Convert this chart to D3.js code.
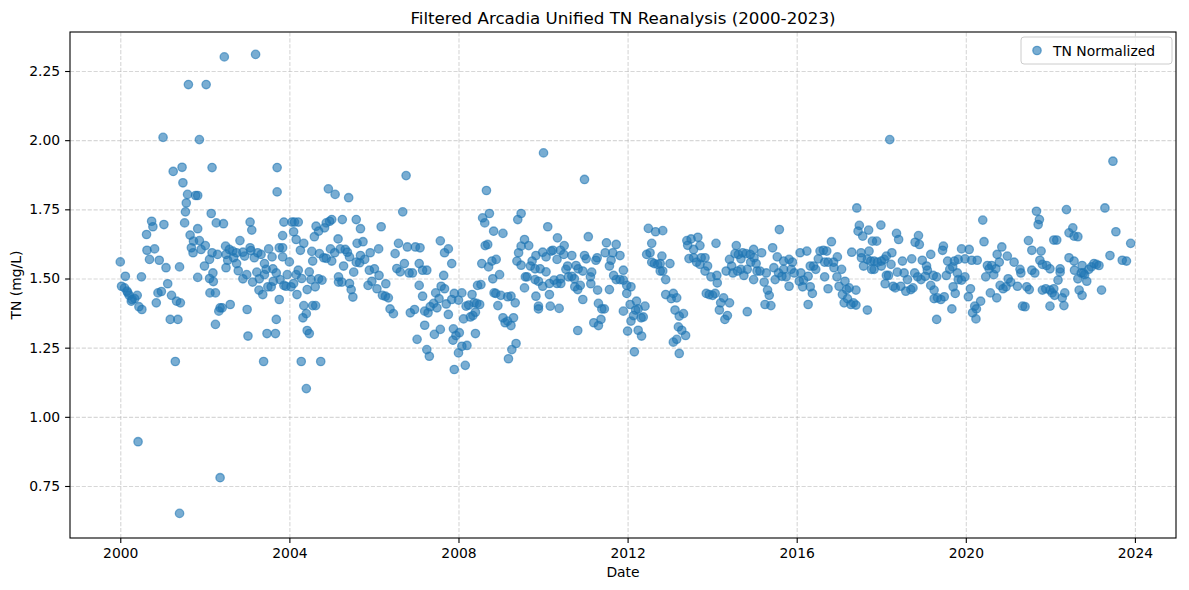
<!DOCTYPE html>
<html>
<head>
<meta charset="utf-8">
<script src="https://cdn.jsdelivr.net/npm/d3@7"></script>
<style>
    body { margin: 0; background: #ffffff; }
    text { font-family: "DejaVu Sans", sans-serif; }
</style>
</head>
<body>
<svg id="scatter"></svg>
<script>
// sample dates as decimal years
const sampleYears = [
    2000.00, 2000.12, 2000.03, 2000.10, 2000.16, 2000.21, 2000.28, 2000.34, 2000.40, 2000.26, 2000.44, 2000.51, 2000.50, 2000.62, 2000.74, 2000.77, 2001.03, 2000.63, 2000.81, 2000.69, 2000.92, 2001.08, 2001.40, 2001.12, 2000.89, 2000.97, 2000.85, 2001.21, 2001.33, 2001.42, 2001.18, 2001.36, 2001.30, 2000.42, 2001.40, 2001.01, 2001.25, 2001.46, 2001.48, 2001.59, 2001.78, 2001.56, 2001.54, 2001.52, 2001.65, 2001.73, 2001.68, 2001.72, 2001.61, 2000.18,
    2002.03, 2001.87, 2002.46, 2003.20, 2002.17, 2003.71, 2003.71, 2001.83, 2002.15, 2001.83, 2002.27, 2002.44, 2003.07, 2003.11, 2001.87, 2002.01, 2001.91, 2002.17, 2002.30, 2002.11, 2001.99, 2001.83, 2002.11, 2002.19, 2002.20, 2002.12, 2002.25, 2002.36, 2002.33, 2002.41, 2002.60, 2002.25, 2002.36,
    2002.49, 2002.58, 2002.66, 2002.75, 2002.50, 2002.54, 2002.68, 2002.83, 2002.90, 2002.94, 2003.07, 2003.09, 2003.17, 2003.25, 2003.33, 2003.51, 2003.59, 2003.76,
    2002.50, 2002.75, 2002.79, 2002.90, 2002.99, 2003.13, 2003.23, 2003.29, 2003.41, 2003.45, 2003.41, 2003.61, 2003.69, 2003.62, 2003.28, 2003.37, 2003.49, 2003.57, 2003.76, 2003.78, 2003.00, 2003.69, 2003.02, 2003.47, 2003.67, 2003.39,
    2003.87, 2004.06, 2004.12, 2004.21, 2003.84, 2004.10, 2004.16, 2004.34, 2004.26, 2003.84, 2003.84, 2004.00, 2003.95, 2003.87, 2003.92, 2004.04, 2004.10, 2004.16, 2004.21, 2004.29, 2004.18, 2004.42, 2004.47, 2004.51, 2004.61, 2004.69, 2004.77,
    2004.34, 2004.55, 2004.62, 2004.40, 2004.32, 2004.42, 2004.47, 2004.28, 2004.74, 2004.40,
    2004.53, 2004.55, 2004.59, 2004.63, 2004.69, 2004.83, 2004.87, 2004.95, 2005.00, 2004.92, 2005.08, 2005.40, 2005.25, 2005.15, 2005.58, 2005.68,
    2004.71, 2004.81, 2004.87, 2004.97, 2005.00, 2005.07, 2005.20, 2005.32, 2005.37, 2005.42, 2005.28, 2005.16, 2005.16, 2005.24, 2005.42, 2005.46, 2005.50, 2005.52, 2005.60, 2005.74, 2005.68, 2005.58, 2005.66, 2005.78,
    2005.91, 2006.11, 2006.17, 2005.89, 2006.01, 2006.12, 2005.95, 2005.86, 2006.07, 2006.28, 2006.20, 2006.27, 2006.34, 2006.38, 2006.46, 2006.68, 2006.76,
    2006.50, 2006.58, 2006.54, 2006.62, 2006.72, 2006.79, 2006.83, 2006.91, 2006.98, 2007.09, 2007.07, 2007.15, 2007.25, 2007.07, 2007.15, 2006.86, 2006.96, 2007.02, 2007.20, 2007.20, 2007.28, 2007.33, 2007.41, 2007.49,
    2007.25, 2007.31, 2007.43, 2007.57, 2007.46, 2007.54, 2007.59, 2007.67, 2007.71, 2007.65, 2007.76, 2007.57, 2007.67, 2007.76,
    2007.84, 2007.84, 2007.90, 2008.00, 2008.08, 2007.88, 2008.02, 2007.94, 2007.87, 2008.00, 2008.08, 2008.20, 2007.90, 2008.16,
    2008.12, 2008.18, 2008.24, 2008.32, 2008.28, 2008.34, 2008.40, 2008.37, 2008.43, 2008.50, 2008.40, 2008.45, 2008.53,
    2008.57, 2008.62, 2008.73, 2008.66, 2008.63, 2008.69, 2008.55, 2008.71, 2008.79, 2008.89, 2008.83, 2009.05, 2008.81, 2008.97, 2008.84, 2008.88, 2008.93, 2009.00, 2009.16, 2009.24, 2009.34,
    2009.05, 2009.10, 2009.16, 2009.24, 2009.30, 2009.18, 2009.26, 2009.36, 2009.40, 2009.48, 2009.56, 2009.66, 2009.48, 2009.42, 2009.38, 2009.48, 2009.58, 2009.62, 2009.56, 2009.70, 2009.74,
    2010.01, 2010.98, 2010.11, 2009.83, 2009.99, 2010.07, 2010.19, 2010.23, 2010.33, 2010.34, 2010.41, 2010.50, 2010.49, 2010.68,
    2009.81, 2009.93, 2010.07, 2009.81, 2009.89, 2009.99, 2010.15, 2010.26, 2010.33, 2010.42, 2010.41, 2010.58, 2010.54, 2010.60, 2010.68, 2010.74, 2010.78, 2010.83, 2010.94,
    2010.75, 2010.82, 2010.88, 2010.94, 2010.98, 2011.02, 2011.07, 2011.12, 2011.15, 2011.13, 2011.25, 2011.28, 2011.29, 2011.31, 2011.39, 2011.45, 2011.20, 2011.31, 2011.37, 2010.82,
    2009.83, 2009.89, 2009.89, 2010.15, 2010.17, 2010.38, 2011.50, 2011.47, 2011.57, 2011.61, 2011.65, 2011.73, 2011.57, 2011.67, 2011.73,
    2011.82, 2011.90, 2011.82, 2011.90, 2011.98, 2012.08, 2011.98, 2011.90, 2012.00, 2012.06, 2012.08, 2012.14, 2012.21, 2012.19, 2012.25, 2012.41, 2012.32, 2012.37, 2012.25, 2012.33, 2012.16,
    2012.49, 2012.66, 2012.83, 2012.57, 2012.45, 2012.53, 2012.57, 2012.63, 2012.71, 2012.77, 2012.81, 2012.77, 2012.83, 2013.00, 2012.90, 2012.90, 2013.03, 2013.08, 2013.16, 2013.12, 2013.22, 2013.32, 2013.20, 2013.28, 2013.37, 2013.08, 2013.16, 2013.22,
    2013.40, 2013.50, 2013.66, 2013.42, 2013.56, 2013.71, 2013.45, 2013.56, 2013.63, 2013.74, 2013.71,
    2013.83, 2013.89, 2013.83, 2013.86, 2013.93, 2014.01, 2014.07, 2013.97, 2014.11, 2014.12, 2014.09, 2014.27, 2014.17, 2014.20, 2014.41, 2014.36, 2014.30,
    2014.41, 2014.33, 2014.46, 2014.49, 2014.57, 2014.54, 2014.62, 2014.72, 2014.80, 2014.90, 2014.98, 2014.68, 2014.60, 2014.68, 2014.75, 2014.83, 2014.91, 2014.99, 2015.04, 2014.98, 2015.06, 2015.13, 2015.17,
    2015.23, 2015.28, 2015.31, 2015.35, 2015.25, 2015.39, 2014.83, 2015.43, 2015.54, 2015.59, 2015.46, 2015.49, 2015.57, 2015.69, 2015.69, 2015.65, 2015.75,
    2015.82, 2015.87, 2015.82, 2015.90, 2015.94, 2016.08, 2016.24, 2016.10, 2016.16, 2016.06, 2016.14, 2016.27, 2016.32, 2016.37, 2016.27,
    2016.32, 2016.40, 2016.45, 2016.51, 2016.55, 2016.63, 2016.71, 2016.82, 2016.66, 2016.74, 2016.87, 2016.96, 2016.66, 2016.88, 2017.06, 2016.95, 2016.74, 2017.00, 2017.14, 2017.08, 2017.18, 2017.24, 2017.12, 2017.20, 2017.28, 2017.34, 2017.40, 2017.40,
    2017.30, 2017.42, 2017.48, 2017.45, 2017.56, 2017.70, 2017.52, 2017.53, 2017.58, 2017.71, 2017.67, 2017.75, 2017.77, 2017.67,
    2017.79, 2017.89, 2017.99, 2017.83, 2017.91, 2018.00, 2018.07, 2018.12, 2018.23, 2018.25, 2017.83, 2018.00, 2018.12, 2018.17, 2018.09, 2018.28, 2018.33, 2018.20,
    2018.36, 2018.41, 2018.38, 2018.46, 2018.50, 2018.54, 2018.58, 2018.62, 2018.70, 2018.75, 2018.72, 2018.79, 2018.86, 2018.80, 2018.88, 2018.90, 2018.97, 2018.94, 2019.07, 2019.09, 2019.04, 2019.17, 2019.23, 2019.17,
    2019.25, 2019.25, 2019.33, 2019.41, 2019.49, 2019.31, 2019.31, 2019.45, 2019.47, 2019.57, 2019.54, 2019.62, 2019.69, 2019.73, 2019.70, 2019.75, 2019.67,
    2019.80, 2019.82, 2019.90, 2019.98, 2020.08, 2020.14, 2020.27, 2019.82, 2019.90, 2019.98, 2020.06, 2020.11, 2020.21, 2020.16, 2020.25, 2020.24, 2020.35,
    2020.40, 2020.43, 2020.47, 2020.51, 2020.55, 2020.61, 2020.66, 2020.71, 2020.74, 2020.79, 2020.85, 2020.58, 2020.73, 2020.81, 2020.88, 2020.95, 2021.00, 2020.98, 2021.06, 2021.14, 2021.22, 2021.30, 2021.28, 2021.34, 2021.40, 2021.44, 2021.50,
    2021.48, 2021.56, 2021.56, 2021.63, 2021.67, 2021.74, 2021.71, 2021.75,
    2021.78, 2021.81, 2021.91, 2021.99, 2021.81, 2021.89, 2021.99, 2022.08, 2022.04, 2022.10, 2021.99, 2022.18, 2022.23, 2022.23, 2022.08, 2022.15, 2022.38, 2022.34, 2022.28, 2022.32,
    2022.44, 2022.44, 2022.53, 2022.56, 2022.65, 2022.56, 2022.57, 2022.65, 2022.75, 2022.73, 2022.81, 2022.86, 2022.78, 2022.91, 2022.97, 2023.03, 2023.09, 2023.15, 2022.68, 2022.75, 2023.21, 2023.29, 2023.48, 2023.41, 2023.55, 2023.70, 2023.80, 2023.90
];
// TN normalized (mg/L), same order as sampleYears
const tnValues = [
    1.560, 1.508, 1.472, 1.466, 1.454, 1.439, 1.424, 1.427, 1.439, 1.418, 1.398, 1.388, 1.506, 1.659, 1.707, 1.687, 1.695, 1.602, 1.607, 1.569, 1.566, 1.539, 1.542, 1.481, 1.448, 1.453, 1.412, 1.439, 1.418, 1.412, 1.352, 1.352, 1.200, 0.910, 0.651, 2.010, 1.887, 1.902, 1.846, 1.804, 1.800, 1.773, 1.741, 1.701, 1.657, 1.635, 1.611, 1.593, 2.201, 1.448,
    2.201, 2.002, 2.301, 2.310, 1.901, 1.901, 1.813, 1.800, 1.735, 1.680, 1.701, 1.698, 1.704, 1.675, 1.637, 1.619, 1.605, 1.593, 1.587, 1.569, 1.545, 1.504, 1.500, 1.520, 1.489, 1.448, 1.448, 1.394, 1.382, 1.394, 1.406, 1.334, 0.780,
    1.617, 1.605, 1.599, 1.593, 1.587, 1.566, 1.575, 1.637, 1.595, 1.581, 1.611, 1.601, 1.575, 1.593, 1.587, 1.607, 1.578, 1.611,
    1.539, 1.554, 1.528, 1.499, 1.514, 1.487, 1.523, 1.499, 1.554, 1.533, 1.514, 1.535, 1.520, 1.490, 1.458, 1.442, 1.470, 1.470, 1.424, 1.496, 1.388, 1.352, 1.292, 1.301, 1.301, 1.200,
    1.704, 1.704, 1.704, 1.704, 1.655, 1.669, 1.641, 1.627, 1.602, 1.611, 1.578, 1.560, 1.514, 1.475, 1.472, 1.470, 1.482, 1.514, 1.530, 1.500, 1.442, 1.460, 1.524, 1.496, 1.470, 1.499, 1.494,
    1.402, 1.402, 1.402, 1.373, 1.358, 1.312, 1.301, 1.200, 1.200, 1.102,
    1.598, 1.563, 1.651, 1.689, 1.671, 1.683, 1.701, 1.707, 1.713, 1.824, 1.804, 1.792, 1.713, 1.643, 1.713, 1.680,
    1.590, 1.575, 1.573, 1.607, 1.563, 1.593, 1.607, 1.605, 1.595, 1.578, 1.545, 1.506, 1.487, 1.487, 1.482, 1.460, 1.433, 1.523, 1.627, 1.633, 1.583, 1.559, 1.557, 1.569,
    1.593, 1.607, 1.687, 1.530, 1.535, 1.511, 1.490, 1.475, 1.463, 1.481, 1.439, 1.436, 1.430, 1.390, 1.373, 1.741, 1.872,
    1.590, 1.627, 1.536, 1.524, 1.554, 1.614, 1.520, 1.520, 1.614, 1.611, 1.554, 1.530, 1.530, 1.475, 1.436, 1.376, 1.388, 1.280, 1.331, 1.382, 1.376, 1.398, 1.410, 1.394,
    1.243, 1.219, 1.298, 1.316, 1.448, 1.427, 1.472, 1.463, 1.408, 1.511, 1.370, 1.636, 1.593, 1.607,
    1.554, 1.424, 1.446, 1.422, 1.448, 1.318, 1.304, 1.294, 1.277, 1.231, 1.255, 1.258, 1.171, 1.186,
    1.354, 1.400, 1.404, 1.442, 1.361, 1.366, 1.378, 1.412, 1.410, 1.406, 1.301, 1.475, 1.478,
    1.719, 1.701, 1.735, 1.818, 1.619, 1.623, 1.554, 1.542, 1.563, 1.569, 1.671, 1.663, 1.499, 1.514, 1.448, 1.446, 1.402, 1.439, 1.434, 1.436, 1.412,
    1.358, 1.340, 1.346, 1.330, 1.358, 1.210, 1.243, 1.265, 1.713, 1.735, 1.641, 1.619, 1.617, 1.593, 1.563, 1.548, 1.506, 1.506, 1.466, 1.545, 1.563,
    1.954, 1.858, 1.687, 1.583, 1.595, 1.578, 1.599, 1.602, 1.569, 1.647, 1.602, 1.619, 1.587, 1.583,
    1.535, 1.535, 1.524, 1.496, 1.490, 1.472, 1.482, 1.494, 1.482, 1.482, 1.499, 1.545, 1.533, 1.506, 1.508, 1.499, 1.547, 1.535, 1.527,
    1.470, 1.460, 1.475, 1.424, 1.583, 1.571, 1.651, 1.506, 1.523, 1.481, 1.566, 1.575, 1.458, 1.410, 1.390, 1.390, 1.340, 1.330, 1.352, 1.312,
    1.436, 1.400, 1.390, 1.442, 1.400, 1.392, 1.629, 1.593, 1.545, 1.566, 1.593, 1.623, 1.460, 1.511, 1.496,
    1.583, 1.530, 1.496, 1.494, 1.475, 1.470, 1.446, 1.382, 1.310, 1.406, 1.346, 1.366, 1.418, 1.386, 1.390, 1.400, 1.358, 1.361, 1.313, 1.292, 1.235,
    1.681, 1.669, 1.673, 1.627, 1.587, 1.593, 1.559, 1.554, 1.551, 1.554, 1.581, 1.527, 1.527, 1.554, 1.496, 1.442, 1.427, 1.446, 1.430, 1.386, 1.364, 1.373, 1.325, 1.313, 1.294, 1.270, 1.280, 1.229,
    1.637, 1.643, 1.649, 1.620, 1.605, 1.619, 1.572, 1.575, 1.559, 1.575, 1.551,
    1.575, 1.545, 1.527, 1.446, 1.442, 1.439, 1.446, 1.506, 1.511, 1.484, 1.627, 1.430, 1.386, 1.412, 1.412, 1.366, 1.352,
    1.569, 1.527, 1.545, 1.520, 1.619, 1.590, 1.587, 1.593, 1.590, 1.587, 1.605, 1.571, 1.527, 1.533, 1.511, 1.533, 1.559, 1.575, 1.554, 1.496, 1.527, 1.527, 1.593,
    1.487, 1.520, 1.458, 1.439, 1.406, 1.402, 1.380, 1.611, 1.578, 1.677, 1.539, 1.496, 1.520, 1.563, 1.533, 1.508, 1.506,
    1.569, 1.533, 1.472, 1.559, 1.520, 1.593, 1.599, 1.520, 1.494, 1.490, 1.470, 1.508, 1.470, 1.446, 1.406,
    1.545, 1.545, 1.533, 1.571, 1.599, 1.602, 1.599, 1.633, 1.559, 1.559, 1.559, 1.578, 1.506, 1.539, 1.533, 1.506, 1.463, 1.472, 1.490, 1.442, 1.460, 1.466, 1.412, 1.427, 1.406, 1.412, 1.458, 1.404,
    1.595, 1.755, 1.692, 1.671, 1.653, 1.675, 1.593, 1.575, 1.545, 1.599, 1.569, 1.563, 1.533, 1.386,
    1.635, 1.635, 1.693, 1.563, 1.559, 1.563, 1.569, 1.581, 1.551, 1.593, 1.533, 1.545, 1.511, 1.511, 1.481, 1.472, 1.466, 2.002,
    1.663, 1.641, 1.523, 1.472, 1.563, 1.520, 1.454, 1.496, 1.460, 1.466, 1.571, 1.520, 1.506, 1.631, 1.655, 1.623, 1.566, 1.496, 1.545, 1.530, 1.508, 1.587, 1.511, 1.475,
    1.458, 1.427, 1.430, 1.424, 1.434, 1.352, 1.506, 1.602, 1.617, 1.563, 1.511, 1.533, 1.542, 1.563, 1.470, 1.446, 1.390,
    1.520, 1.569, 1.607, 1.571, 1.605, 1.566, 1.566, 1.496, 1.494, 1.506, 1.434, 1.463, 1.400, 1.376, 1.390, 1.354, 1.418,
    1.711, 1.633, 1.506, 1.547, 1.535, 1.547, 1.514, 1.535, 1.587, 1.559, 1.614, 1.448, 1.430, 1.475, 1.463, 1.470, 1.499, 1.581, 1.487, 1.559, 1.472, 1.520, 1.533, 1.400, 1.398, 1.470, 1.460,
    1.637, 1.602, 1.530, 1.520, 1.743, 1.713, 1.695, 1.566,
    1.599, 1.551, 1.547, 1.535, 1.458, 1.463, 1.458, 1.463, 1.448, 1.439, 1.400, 1.494, 1.535, 1.523, 1.639, 1.639, 1.749, 1.448, 1.430, 1.402,
    1.575, 1.665, 1.683, 1.653, 1.651, 1.563, 1.530, 1.499, 1.547, 1.520, 1.514, 1.490, 1.520, 1.533, 1.542, 1.554, 1.551, 1.547, 1.458, 1.439, 1.458, 1.755, 1.924, 1.583, 1.669, 1.566, 1.563, 1.627
];
const yTicks = [0.75, 1.00, 1.25, 1.50, 1.75, 2.00, 2.25];
const xDomainYears = [1998.81, 2024.97];
const yDomain = [0.562, 2.391];

const ancho = 1189;
const alto = 590;
const margen = {left: 70, right: 13, top: 32, bottom: 52};
const ancho_g = ancho - margen.left - margen.right;
const alto_g = alto - margen.top - margen.bottom;
const azul = '#1f77b4';

// decimal year -> Date
function aFecha (y) {
    const yr = Math.floor(y);
    const ini = Date.UTC(yr, 0, 1);
    const fin = Date.UTC(yr + 1, 0, 1);
    return new Date(ini + (y - yr) * (fin - ini));
}

const svg = d3.select('#scatter').attr('width', ancho).attr('height', alto);

let miEscalaX = d3.scaleUtc().domain(xDomainYears.map(aFecha)).range([0, ancho_g]);
let miEscalaY = d3.scaleLinear().domain(yDomain).range([alto_g, 0]);

const g = svg.append('g')
    .attr('transform', 'translate(' + margen.left + ',' + margen.top + ')');

// grid
let xGrid = d3.axisBottom(miEscalaX).ticks(d3.utcYear.every(4)).tickSize(-alto_g).tickFormat('');
let yGrid = d3.axisLeft(miEscalaY).tickValues(yTicks).tickSize(-ancho_g).tickFormat('');
g.append('g').attr('class', 'grid')
    .attr('transform', 'translate(0,' + alto_g + ')')
    .call(xGrid);
g.append('g').attr('class', 'grid')
    .call(yGrid);
g.selectAll('.grid .domain').remove();
g.selectAll('.grid line')
    .attr('stroke', '#b0b0b0')
    .attr('stroke-opacity', 0.5)
    .attr('stroke-width', 1.1)
    .attr('stroke-dasharray', '4.1,1.8');

// points
const puntos = d3.zip(sampleYears, tnValues);
g.append('g')
    .selectAll('circle')
    .data(puntos).enter()
    .append('circle')
    .attr('class', 'points')
    .attr('cx', function (d) { return miEscalaX(aFecha(d[0])); })
    .attr('cy', function (d) { return miEscalaY(d[1]); })
    .attr('r', 4.2)
    .style('fill', azul)
    .style('fill-opacity', 0.6)
    .style('stroke', azul)
    .style('stroke-opacity', 0.6)
    .style('stroke-width', 1.3);

// axes
let xMiEje = d3.axisBottom(miEscalaX)
    .ticks(d3.utcYear.every(4))
    .tickFormat(d3.utcFormat('%Y'))
    .tickSize(4.9)
    .tickPadding(4.9);
let yMiEje = d3.axisLeft(miEscalaY)
    .tickValues(yTicks)
    .tickFormat(d3.format('.2f'))
    .tickSize(4.9)
    .tickPadding(4.9);

g.append('g')
    .attr('id', 'xMiEje')
    .attr('transform', 'translate(0,' + alto_g + ')')
    .call(xMiEje);
g.append('g')
    .attr('id', 'yMiEje')
    .call(yMiEje);

g.selectAll('#xMiEje, #yMiEje')
    .style('font-size', '13.9px')
    .style('font-family', 'DejaVu Sans');
g.selectAll('#xMiEje .domain, #yMiEje .domain').remove();
g.selectAll('#xMiEje line, #yMiEje line').attr('stroke', '#000').attr('stroke-width', 1.1);
g.selectAll('#xMiEje text, #yMiEje text').attr('fill', '#000');

// frame
g.append('rect')
    .attr('width', ancho_g)
    .attr('height', alto_g)
    .attr('fill', 'none')
    .attr('stroke', '#000')
    .attr('stroke-width', 1.1);

// title and labels
svg.append('text')
    .attr('x', margen.left + ancho_g / 2)
    .attr('y', 24)
    .attr('text-anchor', 'middle')
    .style('font-size', '16.7px')
    .text('Filtered Arcadia Unified TN Reanalysis (2000-2023)');

svg.append('text')
    .attr('x', margen.left + ancho_g / 2)
    .attr('y', 577)
    .attr('text-anchor', 'middle')
    .style('font-size', '13.9px')
    .text('Date');

svg.append('text')
    .attr('transform', 'translate(21,' + (margen.top + alto_g / 2) + ') rotate(-90)')
    .attr('text-anchor', 'middle')
    .style('font-size', '13.9px')
    .text('TN (mg/L)');

// legend
const leyenda = svg.append('g')
    .attr('transform', 'translate(' + (margen.left + ancho_g - 155) + ',' + (margen.top + 5) + ')');
leyenda.append('rect')
    .attr('width', 151)
    .attr('height', 27)
    .attr('rx', 3)
    .style('fill', '#ffffff')
    .style('fill-opacity', 0.8)
    .style('stroke', '#cccccc')
    .style('stroke-width', 1);
leyenda.append('circle')
    .attr('cx', 16)
    .attr('cy', 13.5)
    .attr('r', 4.2)
    .style('fill', azul)
    .style('fill-opacity', 0.6)
    .style('stroke', azul)
    .style('stroke-opacity', 0.6)
    .style('stroke-width', 1.3);
leyenda.append('text')
    .attr('x', 32)
    .attr('y', 18.5)
    .style('font-size', '13.9px')
    .text('TN Normalized');
</script>
</body>
</html>
